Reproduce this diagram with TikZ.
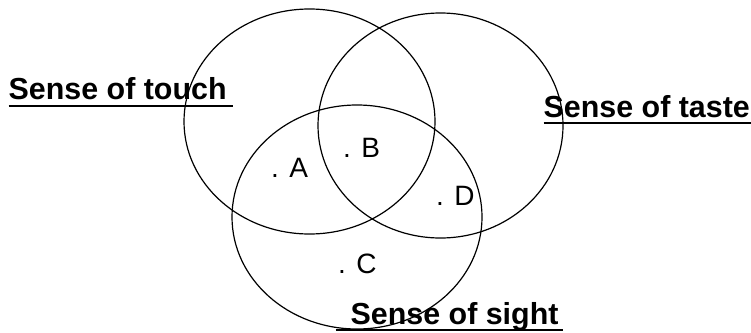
\documentclass[tikz,border=0pt]{standalone}
\usepackage{fontspec}
\setmainfont{Liberation Sans}
\begin{document}
\begin{tikzpicture}[x=1pt,y=-1pt,
  sense/.style={anchor=base west, inner sep=0pt, font=\fontsize{30.4}{36}\selectfont\bfseries},
  pt/.style={anchor=base west, inner sep=0pt, font=\fontsize{28}{32}\selectfont},
  uline/.style={line width=1.8pt}]
\useasboundingbox (0,0) rectangle (751,332);
\draw[line width=1.2pt] (309.5,121.5) ellipse [x radius=125.5, y radius=112.5];
\draw[line width=1.2pt] (440.5,125.5) ellipse [x radius=122.5, y radius=112.5];
\draw[line width=1.2pt] (357,217) ellipse [x radius=125, y radius=112];
\node[sense] (touch) at (8.5,99) {Sense of touch};
\node[sense] (taste) at (543.5,117) {Sense of taste};
\node[sense] (sight) at (350.5,324) {Sense of sight};
\draw[uline] ([shift={(0,7)}]touch.base west) -- ([shift={(6,7)}]touch.base east);
\draw[uline] ([shift={(0,6)}]taste.base west) -- ([shift={(4,6)}]taste.base east);
\draw[uline] ([shift={(-15,6)}]sight.base west) -- ([shift={(4,6)}]sight.base east);
\node[pt] (ptA) at (271,177) {. A};
\node[pt] (ptB) at (343,157) {. B};
\node[pt] (ptC) at (338,273) {. C};
\node[pt] (ptD) at (436,205) {. D};
\end{tikzpicture}
\end{document}
